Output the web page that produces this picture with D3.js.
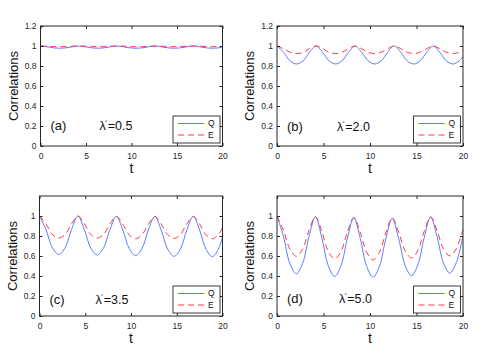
<!DOCTYPE html>
<html>
<head>
<meta charset="utf-8">
<script src="https://cdn.jsdelivr.net/npm/d3@7"></script>
<style>
  body { margin: 0; background: #fff; }
  text { font-family: "Liberation Sans", Arial, sans-serif; }
</style>
</head>
<body>
<div id="chart"></div>
<script>
// time grids (panels a-c share one, panel d has a slightly shorter period)
var tGrid = [0,0.7,1.4,2.1,2.8,3.5,4.2,4.9,5.6,6.3,7,7.7,8.4,9.1,9.8,10.5,11.2,11.9,12.6,13.3,14,14.7,15.4,16.1,16.8,17.5,18.2,18.9,19.6,20];
var tGridD = [0,0.69,1.38,2.07,2.75,3.44,4.13,4.82,5.51,6.2,6.88,7.57,8.26,8.95,9.64,10.33,11.01,11.7,12.39,13.08,13.77,14.46,15.14,15.83,16.52,17.21,17.9,18.59,19.27,20];

// Q (solid) and E (dashed) correlations
var qA = [1,0.992,0.982,0.978,0.982,0.992, 1,0.992,0.982,0.978,0.982,0.992, 1,0.992,0.982,0.978,0.982,0.992, 1,0.992,0.982,0.978,0.982,0.992, 1,0.992,0.982,0.978,0.982,0.988];
var eA = [1,0.998,0.994,0.993,0.994,0.998, 1,0.998,0.994,0.993,0.994,0.998, 1,0.998,0.994,0.993,0.994,0.998, 1,0.998,0.994,0.993,0.994,0.998, 1,0.998,0.994,0.993,0.994,0.996];
var qB = [1,0.937,0.852,0.82,0.852,0.937, 1,0.937,0.852,0.82,0.852,0.937, 1,0.937,0.852,0.82,0.852,0.937, 1,0.937,0.852,0.82,0.852,0.937, 1,0.937,0.852,0.82,0.852,0.895];
var eB = [1,0.973,0.938,0.924,0.938,0.973, 1,0.973,0.938,0.924,0.938,0.973, 1,0.973,0.938,0.924,0.938,0.973, 1,0.973,0.938,0.924,0.938,0.973, 1,0.973,0.938,0.924,0.938,0.962];
var qC = [1,0.865,0.683,0.614,0.683,0.865, 1,0.864,0.68,0.61,0.68,0.864, 0.997,0.861,0.675,0.604,0.675,0.861, 0.996,0.859,0.67,0.597,0.67,0.859, 0.996,0.858,0.667,0.594,0.68,0.79];
var eC = [1,0.922,0.816,0.779,0.816,0.922, 1,0.922,0.816,0.779,0.816,0.922, 0.995,0.919,0.812,0.772,0.812,0.919, 0.995,0.92,0.814,0.776,0.814,0.92, 0.995,0.918,0.812,0.772,0.82,0.885];
var qD = [1,0.798,0.526,0.422,0.525,0.793, 0.993,0.784,0.503,0.396,0.502,0.778, 0.983,0.775,0.496,0.389,0.495,0.771, 0.977,0.776,0.506,0.403,0.509,0.785, 0.99,0.794,0.53,0.429,0.532,0.8];
var eD = [1,0.859,0.67,0.597,0.668,0.854, 0.993,0.845,0.647,0.571,0.646,0.84, 0.985,0.837,0.637,0.561,0.636,0.833, 0.98,0.84,0.653,0.581,0.655,0.847, 0.99,0.854,0.671,0.601,0.672,0.865];

var panelLabels = ['(a)', '(b)', '(c)', '(d)'];
var lambdaValues = ['0.5', '2.0', '3.5', '5.0'];
var xTicks = [0, 5, 10, 15, 20];
var yTicksTop = [0, 0.2, 0.4, 0.6, 0.8, 1, 1.2];
var yTicksBottom = [0, 0.2, 0.4, 0.6, 0.8, 1];
var seriesNames = ['Q', 'E'];

var width = 491, height = 357;

var svg = d3.select('#chart').append('svg')
    .attr('width', width)
    .attr('height', height);

// panel boxes on the page
var boxes = [
  {left: 40.5, top: 26, w: 182, h: 120, labelY: 104, lamX: 59},
  {left: 277, top: 26, w: 186, h: 120, labelY: 105, lamX: 60},
  {left: 39.5, top: 196, w: 183, h: 120, labelY: 107.5, lamX: 56},
  {left: 277, top: 196, w: 186, h: 120, labelY: 107, lamX: 62}
];

var panels = [
  {t: tGrid, q: qA, e: eA, yt: yTicksTop},
  {t: tGrid, q: qB, e: eB, yt: yTicksTop},
  {t: tGrid, q: qC, e: eC, yt: yTicksBottom},
  {t: tGridD, q: qD, e: eD, yt: yTicksBottom}
];

var blue = '#5a7cff', red = '#ff3a3a';
var fmt = function(d) { return d === 0 || d === 1 ? String(d) : d3.format('.1f')(d); };

panels.forEach(function(p, i) {
  var b = boxes[i];
  var g = svg.append('g').attr('transform', 'translate(' + b.left + ',' + b.top + ')');

  var x = d3.scaleLinear().domain([0, 20]).range([0, b.w]);
  var y = d3.scaleLinear().domain([0, 1.2]).range([b.h, 0]);

  // lines
  var line = d3.line()
      .x(function(d) { return x(d[0]); })
      .y(function(d) { return y(d[1]); })
      .curve(d3.curveCatmullRom);

  var clip = 'clip' + i;
  g.append('clipPath').attr('id', clip)
    .append('rect').attr('width', b.w).attr('height', b.h);

  g.append('path')
    .datum(d3.zip(p.t, p.q))
    .attr('clip-path', 'url(#' + clip + ')')
    .attr('d', line)
    .attr('fill', 'none')
    .attr('stroke', blue)
    .attr('stroke-width', 1);

  g.append('path')
    .datum(d3.zip(p.t, p.e))
    .attr('clip-path', 'url(#' + clip + ')')
    .attr('d', line)
    .attr('fill', 'none')
    .attr('stroke', red)
    .attr('stroke-width', 1)
    .attr('stroke-dasharray', '6,4');

  // axes, ticks pointing inward
  var bottom = g.append('g').attr('transform', 'translate(0,' + b.h + ')')
    .call(d3.axisBottom(x).tickValues(xTicks).tickSize(-3).tickPadding(7));
  var left = g.append('g')
    .call(d3.axisLeft(y).tickValues(p.yt).tickFormat(fmt).tickSize(-3).tickPadding(4));
  var top = g.append('g')
    .call(d3.axisTop(x).tickValues(xTicks).tickSize(-3).tickFormat(''));
  var right = g.append('g').attr('transform', 'translate(' + b.w + ',0)')
    .call(d3.axisRight(y).tickValues(p.yt).tickSize(-3).tickFormat(''));

  [bottom, left, top, right].forEach(function(a) {
    a.select('.domain').remove();
    a.selectAll('line').attr('stroke', '#262626');
    a.selectAll('text').attr('font-size', 8.5).attr('fill', '#262626')
      .style('font-family', '"Liberation Sans", Arial, sans-serif');
  });

  g.append('rect')
    .attr('width', b.w).attr('height', b.h)
    .attr('fill', 'none')
    .attr('stroke', '#262626')
    .attr('stroke-width', 1);

  // axis titles
  g.append('text')
    .attr('transform', 'translate(-23,' + (b.h / 2) + ') rotate(-90)')
    .attr('text-anchor', 'middle')
    .attr('font-size', 13)
    .attr('fill', '#111')
    .text('Correlations');

  g.append('text')
    .attr('x', b.w / 2).attr('y', b.h + 27)
    .attr('text-anchor', 'middle')
    .attr('font-size', 14)
    .attr('fill', '#111')
    .text('t');

  // panel annotations
  g.append('text')
    .attr('x', 10).attr('y', b.labelY)
    .attr('font-size', 13)
    .attr('fill', '#111')
    .text(panelLabels[i]);

  var lam = g.append('text')
    .attr('x', b.lamX).attr('y', b.labelY)
    .attr('font-size', 12.5)
    .attr('fill', '#111');
  lam.append('tspan').text('λ');
  lam.append('tspan').attr('font-size', 9).attr('dy', -3).attr('dx', -1).text('´');
  lam.append('tspan').attr('dy', 3).text('=' + lambdaValues[i]);

  // legend
  var lw = 47, lh = 27;
  var lg = g.append('g')
    .attr('transform', 'translate(' + (b.w - lw - 2.5) + ',' + (b.h - lh - 3) + ')');
  lg.append('rect')
    .attr('width', lw).attr('height', lh)
    .attr('fill', '#fff')
    .attr('stroke', '#262626')
    .attr('stroke-width', 0.9);

  seriesNames.forEach(function(name, k) {
    var ly = 7.5 + k * 11.5;
    lg.append('line')
      .attr('x1', 5).attr('x2', 31)
      .attr('y1', ly).attr('y2', ly)
      .attr('stroke', k === 0 ? blue : red)
      .attr('stroke-width', 1)
      .attr('stroke-dasharray', k === 0 ? null : '6,4');
    lg.append('text')
      .attr('x', 35).attr('y', ly)
      .attr('dy', '0.35em')
      .attr('font-size', 8.5)
      .attr('fill', '#111')
      .text(name);
  });
});
</script>
</body>
</html>
